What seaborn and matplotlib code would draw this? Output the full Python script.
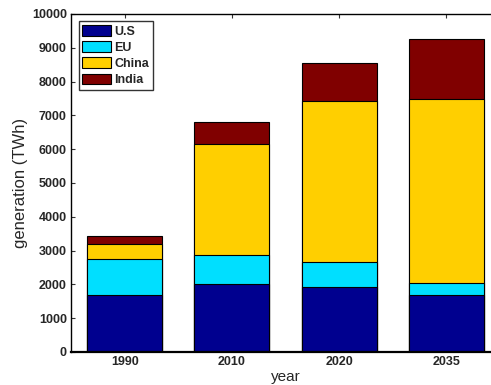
import numpy as np
import pandas as pd
import matplotlib
matplotlib.use("Agg")
import matplotlib.pyplot as plt
from matplotlib.patches import Patch
import seaborn as sns

years = ["1990", "2010", "2020", "2035"]
regions = ["U.S", "EU", "China", "India"]
us = [1700, 2000, 1920, 1700]
eu = [1040, 860, 750, 340]
china = [470, 3290, 4760, 5450]
india = [210, 660, 1110, 1760]
colors = ["#00008F", "#00DFFF", "#FFCF00", "#800000"]

sns.set_style("white")
plt.rcParams["font.family"] = ["Liberation Sans", "DejaVu Sans"]

fig = plt.figure(figsize=(4.91, 3.85), dpi=100)
ax = fig.add_axes([71 / 491, 33 / 385, 429 / 491, 338 / 385])

df = pd.DataFrame({"year": years, "U.S": us, "EU": eu, "China": china, "India": india})
cum = df[regions].cumsum(axis=1)

# stacked bars: draw cumulative totals from the top segment down
for name, col in zip(regions[::-1], colors[::-1]):
    sns.barplot(x=df["year"], y=cum[name], color=col, saturation=1, width=0.7,
                edgecolor="black", linewidth=0.8, errorbar=None, ax=ax)

ax.set_xlim(-0.5, 3.5)
ax.set_ylim(0, 10000)
ax.set_yticks(np.arange(0, 10001, 1000))
ax.set_xlabel("year", fontsize=11, labelpad=1)
ax.set_ylabel("generation (TWh)", fontsize=12, labelpad=3)
for lab in ax.get_xticklabels() + ax.get_yticklabels():
    lab.set_fontweight("bold")
    lab.set_fontsize(9)
ax.tick_params(axis="both", direction="in", length=3, width=0.8, color="#333333",
               top=True, right=True, left=True, bottom=True, pad=3)
for side in ["top", "right", "left", "bottom"]:
    ax.spines[side].set_visible(True)
    ax.spines[side].set_color("black")
    ax.spines[side].set_linewidth(1.0)
ax.spines["bottom"].set_linewidth(1.6)

handles = [Patch(facecolor=c, edgecolor="black", linewidth=0.8) for c in colors]
leg = ax.legend(handles, regions, loc="upper left", bbox_to_anchor=(0.012, 0.986),
                frameon=True, fancybox=False, edgecolor="black",
                prop={"weight": "bold", "size": 9}, handlelength=2.3,
                handleheight=0.95, handletextpad=0.25, labelspacing=0.28,
                borderpad=0.3, borderaxespad=0.2)
leg.get_frame().set_linewidth(1.0)

fig.savefig("out.png", dpi=100)
